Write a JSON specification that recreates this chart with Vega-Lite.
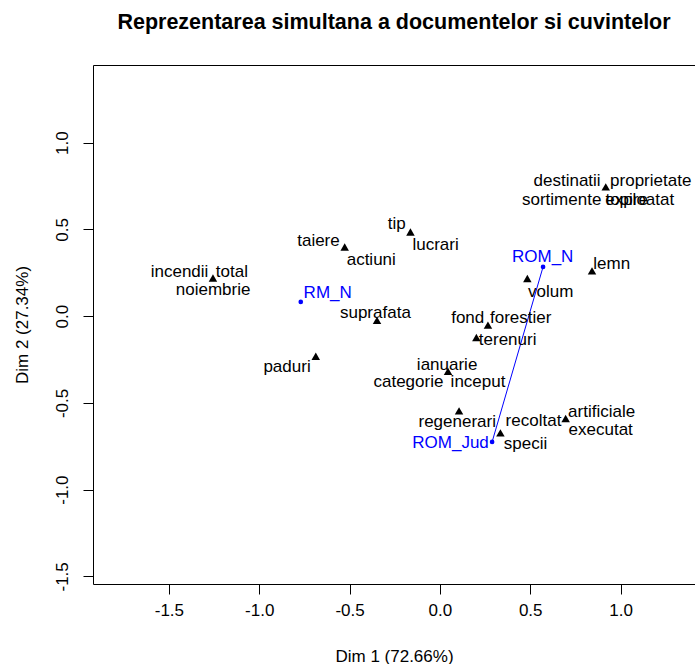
{
  "$schema": "https://vega.github.io/schema/vega-lite/v6.json",
  "width": 602,
  "height": 519,
  "autosize": "none",
  "padding": {"left": 93, "top": 65, "right": 0, "bottom": 80},
  "background": "white",
  "title": {
    "text": "Reprezentarea simultana a documentelor si cuvintelor",
    "font": "Liberation Sans",
    "fontSize": 21.5,
    "fontWeight": "bold",
    "color": "black",
    "anchor": "middle",
    "baseline": "alphabetic",
    "offset": 15
  },
  "config": {
    "view": {"stroke": null},
    "axis": {
      "grid": false,
      "domainColor": "black",
      "domainWidth": 1,
      "tickColor": "black",
      "tickWidth": 1,
      "tickSize": 10,
      "labelFont": "Liberation Sans",
      "labelFontSize": 17,
      "labelColor": "black",
      "titleFont": "Liberation Sans",
      "titleFontSize": 17,
      "titleFontWeight": "normal",
      "titleColor": "black"
    }
  },
  "datasets": {
    "pts": [
      {"name": "incendii/total/noiembrie", "x": -1.256, "y": 0.220, "type": "word"},
      {"name": "taiere/actiuni", "x": -0.527, "y": 0.399, "type": "word"},
      {"name": "tip/lucrari", "x": -0.163, "y": 0.485, "type": "word"},
      {"name": "destinatii/proprietate/sortimente/exploatat/topire", "x": 0.918, "y": 0.745, "type": "word"},
      {"name": "lemn", "x": 0.842, "y": 0.261, "type": "word"},
      {"name": "volum", "x": 0.484, "y": 0.217, "type": "word"},
      {"name": "suprafata", "x": -0.348, "y": -0.024, "type": "word"},
      {"name": "fond/forestier", "x": 0.266, "y": -0.052, "type": "word"},
      {"name": "terenuri", "x": 0.202, "y": -0.123, "type": "word"},
      {"name": "paduri", "x": -0.687, "y": -0.231, "type": "word"},
      {"name": "ianuarie/categorie/inceput", "x": 0.045, "y": -0.318, "type": "word"},
      {"name": "regenerari", "x": 0.106, "y": -0.546, "type": "word"},
      {"name": "specii/recoltat", "x": 0.335, "y": -0.673, "type": "word"},
      {"name": "artificiale/executat", "x": 0.696, "y": -0.590, "type": "word"},
      {"name": "RM_N", "x": -0.770, "y": 0.082, "type": "doc"},
      {"name": "ROM_N", "x": 0.571, "y": 0.284, "type": "doc"},
      {"name": "ROM_Jud", "x": 0.289, "y": -0.725, "type": "doc"}
    ],
    "labels": [
      {"label": "incendii", "lx": -1.441, "ly": 0.255, "type": "word"},
      {"label": "total", "lx": -1.151, "ly": 0.255, "type": "word"},
      {"label": "noiembrie", "lx": -1.255, "ly": 0.149, "type": "word"},
      {"label": "tip", "lx": -0.239, "ly": 0.534, "type": "word"},
      {"label": "taiere", "lx": -0.672, "ly": 0.433, "type": "word"},
      {"label": "actiuni", "lx": -0.380, "ly": 0.326, "type": "word"},
      {"label": "lucrari", "lx": -0.024, "ly": 0.409, "type": "word"},
      {"label": "destinatii", "lx": 0.704, "ly": 0.779, "type": "word"},
      {"label": "proprietate", "lx": 1.167, "ly": 0.779, "type": "word"},
      {"label": "sortimente", "lx": 0.674, "ly": 0.668, "type": "word"},
      {"label": "exploatat", "lx": 1.106, "ly": 0.668, "type": "word"},
      {"label": "topire", "lx": 1.034, "ly": 0.668, "type": "word"},
      {"label": "lemn", "lx": 0.951, "ly": 0.303, "type": "word"},
      {"label": "volum", "lx": 0.613, "ly": 0.139, "type": "word"},
      {"label": "suprafata", "lx": -0.357, "ly": 0.018, "type": "word"},
      {"label": "fond", "lx": 0.154, "ly": -0.010, "type": "word"},
      {"label": "forestier", "lx": 0.447, "ly": -0.010, "type": "word"},
      {"label": "terenuri", "lx": 0.375, "ly": -0.135, "type": "word"},
      {"label": "paduri", "lx": -0.846, "ly": -0.293, "type": "word"},
      {"label": "ianuarie", "lx": 0.040, "ly": -0.279, "type": "word"},
      {"label": "categorie", "lx": -0.174, "ly": -0.379, "type": "word"},
      {"label": "inceput", "lx": 0.211, "ly": -0.379, "type": "word"},
      {"label": "regenerari", "lx": 0.096, "ly": -0.610, "type": "word"},
      {"label": "recoltat", "lx": 0.518, "ly": -0.606, "type": "word"},
      {"label": "specii", "lx": 0.474, "ly": -0.738, "type": "word"},
      {"label": "artificiale", "lx": 0.895, "ly": -0.552, "type": "word"},
      {"label": "executat", "lx": 0.890, "ly": -0.658, "type": "word"},
      {"label": "RM_N", "lx": -0.621, "ly": 0.134, "type": "doc"},
      {"label": "ROM_N", "lx": 0.569, "ly": 0.341, "type": "doc"},
      {"label": "ROM_Jud", "lx": 0.059, "ly": -0.731, "type": "doc"}
    ]
  },
  "layer": [
    {
      "data": {"name": "pts"},
      "mark": {"type": "point", "filled": true, "opacity": 1},
      "encoding": {
        "x": {
          "field": "x", "type": "quantitative",
          "scale": {"domain": [-1.92, 1.412], "nice": false, "zero": false},
          "axis": {
            "orient": "bottom",
            "values": [-1.5, -1, -0.5, 0, 0.5, 1],
            "labelExpr": "replace(format(datum.value, '.1f'), '\u2212', '-')",
            "labelPadding": 8,
            "labelFlush": false,
            "labelOverlap": false,
            "title": "Dim 1 (72.66%)",
            "titlePadding": 30
          }
        },
        "y": {
          "field": "y", "type": "quantitative",
          "scale": {"domain": [-1.544, 1.448], "nice": false, "zero": false},
          "axis": {
            "orient": "left",
            "values": [-1.5, -1, -0.5, 0, 0.5, 1],
            "labelExpr": "replace(format(datum.value, '.1f'), '\u2212', '-')",
            "labelAngle": 270,
            "labelAlign": "center",
            "labelBaseline": "bottom",
            "labelPadding": 12,
            "labelFlush": false,
            "labelOverlap": false,
            "title": "Dim 2 (27.34%)",
            "titlePadding": 22
          }
        },
        "shape": {"field": "type", "type": "nominal", "scale": {"domain": ["word", "doc"], "range": ["triangle-up", "circle"]}, "legend": null},
        "color": {"field": "type", "type": "nominal", "scale": {"domain": ["word", "doc"], "range": ["black", "#0000ff"]}, "legend": null},
        "size": {"field": "type", "type": "nominal", "scale": {"domain": ["word", "doc"], "range": [72, 22]}, "legend": null}
      }
    },
    {
      "mark": {"type": "rule", "strokeDash": [5, 4], "color": "black", "strokeWidth": 1},
      "encoding": {
        "x": {"datum": 0, "type": "quantitative", "axis": null}
      }
    },
    {
      "mark": {"type": "rule", "strokeDash": [5, 4], "color": "black", "strokeWidth": 1},
      "encoding": {
        "y": {"datum": 0, "type": "quantitative"}
      }
    },
    {
      "data": {"name": "pts"},
      "transform": [{"filter": "datum.name === 'ROM_N' || datum.name === 'ROM_Jud'"}],
      "mark": {"type": "line", "color": "#0000ff", "strokeWidth": 1},
      "encoding": {
        "x": {"field": "x", "type": "quantitative", "axis": null},
        "y": {"field": "y", "type": "quantitative"},
        "order": {"field": "y"}
      }
    },
    {
      "data": {"name": "labels"},
      "mark": {"type": "text", "font": "Liberation Sans", "fontSize": 17, "align": "center", "baseline": "middle"},
      "encoding": {
        "x": {
          "field": "lx", "type": "quantitative",
          "axis": {"orient": "top", "labels": false, "ticks": false, "title": null, "domain": true}
        },
        "y": {"field": "ly", "type": "quantitative"},
        "text": {"field": "label"},
        "color": {"field": "type", "type": "nominal", "scale": {"domain": ["word", "doc"], "range": ["black", "#0000ff"]}, "legend": null}
      }
    }
  ],
  "resolve": {"axis": {"x": "independent"}}
}
